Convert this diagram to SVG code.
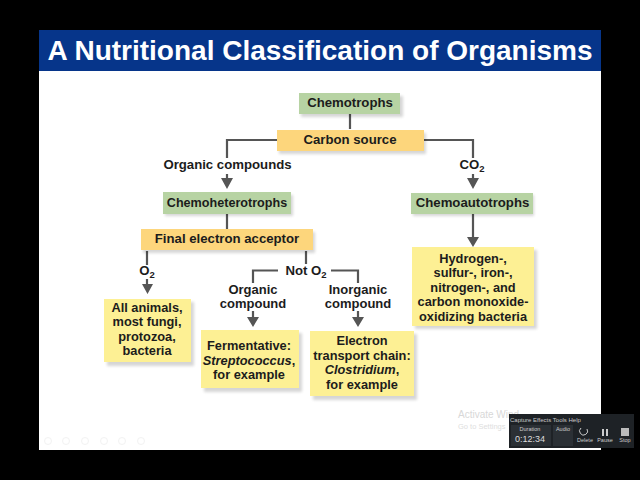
<svg xmlns="http://www.w3.org/2000/svg" width="640" height="480" viewBox="0 0 640 480">
<defs><filter id="soft" x="-10%" y="-10%" width="120%" height="120%"><feGaussianBlur stdDeviation="1.5"/></filter></defs>
<style>
text{font-family:"Liberation Sans",Arial,sans-serif;font-weight:bold;font-size:13.2px;fill:#1c1c1c;text-anchor:middle}
.green{fill:#b7d3a3}
.orange{fill:#fdd67c}
.yellow{fill:#fdf094}
.sh{fill:#000;opacity:.16;filter:url(#soft)}
.line{fill:none;stroke:#555;stroke-width:2.2}
.head{fill:#555}
.i{font-style:italic}
.box text{font-size:12.800px}
.lab text{font-size:13px}
</style>
<rect width="640" height="480" fill="#000"/>
<rect x="39" y="71" width="562" height="379" fill="#fff"/>
<g id="title"><rect x="39" y="30" width="562" height="41" fill="#06358a"/>
<text x="320" y="60" style="font-size:28px;fill:#fff">A Nutritional Classification of Organisms</text></g>
<g id="connectors">
<path class="line" d="M350 113V129M277 140H227V158M424 140H473V158M227 174V180M473 174V180M227 213V229M147 251V265M306 251V264M147 279V287M278 270.500H253V283M331 270.500H358V283M253 311V318M358 311V318M473 214V240"/>
<path class="head" d="M221 178h12l-6 11zM467 178h12l-6 11zM142 284h11l-5.500 10zM247 317h12l-6 10zM352 317h12l-6 10zM467 237h12l-6 10z"/>
</g>
<g id="chemotrophs"><rect class="sh" x="301" y="96" width="102" height="21"/><rect class="green" x="299" y="93" width="101" height="21"/><text x="350" y="107">Chemotrophs</text></g>
<g id="carbon-source"><rect class="sh" x="279" y="133" width="147" height="21"/><rect class="orange" x="277" y="130" width="147" height="21"/><text x="350" y="144">Carbon source</text></g>
<g id="organic-compounds"><text x="227.500" y="169">Organic compounds</text></g>
<g id="co2"><text x="472" y="169">CO<tspan dy="3" style="font-size:9.500px">2</tspan></text></g>
<g id="chemoheterotrophs"><rect class="sh" x="165" y="195" width="128" height="21"/><rect class="green" x="163" y="192" width="128" height="22"/><text x="227" y="207" style="font-size:12.600px">Chemoheterotrophs</text></g>
<g id="chemoautotrophs"><rect class="sh" x="413" y="195" width="121" height="21"/><rect class="green" x="411" y="193" width="122" height="21"/><text x="472.500" y="207">Chemoautotrophs</text></g>
<g id="final-electron-acceptor"><rect class="sh" x="143" y="232" width="172" height="21"/><rect class="orange" x="141" y="229" width="172" height="21"/><text x="227" y="243">Final electron acceptor</text></g>
<g id="o2"><text x="147" y="275">O<tspan dy="3" style="font-size:9.500px">2</tspan></text></g>
<g id="not-o2"><text x="306" y="275">Not O<tspan dy="3" style="font-size:9.500px">2</tspan></text></g>
<g id="organic-compound" class="lab"><text x="253" y="294">Organic</text><text x="253" y="308">compound</text></g>
<g id="inorganic-compound" class="lab"><text x="358" y="294">Inorganic</text><text x="358" y="308">compound</text></g>
<g id="all-animals" class="box"><rect class="sh" x="107" y="302" width="87" height="64"/><rect class="yellow" x="104" y="299" width="87" height="63"/>
<text x="147" y="312">All animals,</text><text x="147" y="326">most fungi,</text><text x="147" y="341">protozoa,</text><text x="147" y="355">bacteria</text></g>
<g id="fermentative" class="box"><rect class="sh" x="204" y="333" width="98" height="59"/><rect class="yellow" x="201" y="330" width="98" height="58"/>
<text x="249" y="350">Fermentative:</text><text x="249" y="365" class="i">Streptococcus<tspan style="font-style:normal">,</tspan></text><text x="249" y="379">for example</text></g>
<g id="electron-transport" class="box"><rect class="sh" x="313" y="334" width="104" height="66"/><rect class="yellow" x="310" y="331" width="104" height="65"/>
<text x="362" y="345">Electron</text><text x="362" y="360">transport chain:</text><text x="362" y="374" class="i">Clostridium<tspan style="font-style:normal">,</tspan></text><text x="362" y="389">for example</text></g>
<g id="hydrogen" class="box"><rect class="sh" x="415" y="250" width="122" height="79"/><rect class="yellow" x="412" y="247" width="122" height="79"/>
<text x="473" y="263">Hydrogen-,</text><text x="473" y="277">sulfur-, iron-,</text><text x="473" y="292">nitrogen-, and</text><text x="473" y="306">carbon monoxide-</text><text x="473" y="321">oxidizing bacteria</text></g>
<g id="watermark">
<text x="458" y="418" style="font-size:10px;font-weight:normal;fill:#d8d8d8;text-anchor:start">Activate Wind</text>
<text x="458" y="429" style="font-size:7.500px;font-weight:normal;fill:#dedede;text-anchor:start">Go to Settings</text>
</g>
<g id="recorder">
<rect x="509" y="414" width="125" height="34" fill="#1e2226"/>
<text x="510" y="422" style="font-size:6px;font-weight:normal;fill:#c8c8c8;text-anchor:start">Capture  Effects  Tools  Help</text>
<rect x="511" y="425" width="40" height="21" fill="#2b3035"/><rect x="553" y="425" width="20" height="21" fill="#2b3035"/>
<text x="530" y="431" style="font-size:5.500px;font-weight:normal;fill:#ccc">Duration</text>
<text x="530" y="442" style="font-size:9px;font-weight:normal;fill:#ddd">0:12:34</text>
<text x="563" y="431" style="font-size:5.500px;font-weight:normal;fill:#ccc">Audio</text>
<path d="M581 428a4 4 0 1 0 6 1" fill="none" stroke="#ccc"/>
<rect x="602" y="429" width="2" height="7" fill="#ccc"/><rect x="606" y="429" width="2" height="7" fill="#ccc"/>
<rect x="621" y="428" width="8" height="8" fill="#bbb"/>
<text x="585" y="442" style="font-size:5.500px;font-weight:normal;fill:#ccc">Delete</text>
<text x="605" y="442" style="font-size:5.500px;font-weight:normal;fill:#ccc">Pause</text>
<text x="625" y="442" style="font-size:5.500px;font-weight:normal;fill:#ccc">Stop</text>
</g>
<g id="player-controls" fill="none" stroke="#f2f2f2">
<circle cx="48" cy="441" r="3.500"/><circle cx="66" cy="441" r="3.500"/><circle cx="85" cy="441" r="3.500"/><circle cx="104" cy="441" r="3.500"/><circle cx="122" cy="441" r="3.500"/><circle cx="141" cy="441" r="3.500"/>
</g>
</svg>
